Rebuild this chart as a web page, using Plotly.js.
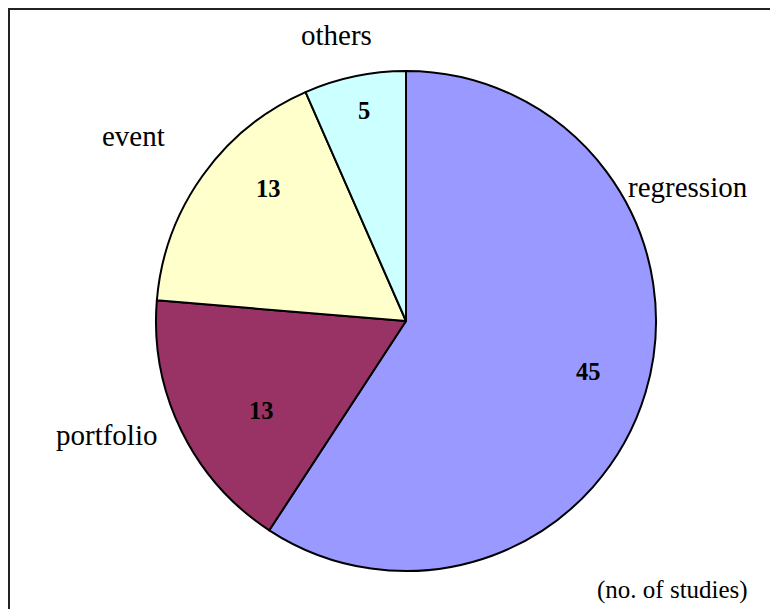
<!DOCTYPE html>
<html>
<head>
<meta charset="utf-8">
<script src="https://cdn.plot.ly/plotly-3.0.1.min.js"></script>
<style>
  html, body { margin: 0; padding: 0; background: #fff; }
  #chart { width: 770px; height: 609px; }
</style>
</head>
<body>
<div id="chart"></div>
<script>
// Studies grouped by method (no. of studies)
const categories = ['regression', 'portfolio', 'event', 'others'];
const studies = [45, 13, 13, 5];
const sliceColors = ['#9999FF', '#993366', '#FFFFCC', '#CCFFFF'];
const footnote = '(no. of studies)';

const W = 770, H = 609;
const px = x => x / W;
const py = y => 1 - y / H;

// Pie circle: centre (406, 321), radius 250 px
const cx = 406, cy = 321, R = 250;

// Category name and count positions (px), in category order
const namePos = [[688, 187], [107, 435], [133, 136], [336, 35]];
const countPos = [[588, 371], [261, 411], [268, 188], [364, 110]];

const serif = 'Liberation Serif';
const annotations = [];
categories.forEach((c, i) => {
  annotations.push({
    xref: 'paper', yref: 'paper', x: px(namePos[i][0]), y: py(namePos[i][1]),
    xanchor: 'center', yanchor: 'middle', showarrow: false, text: c,
    font: { family: serif, size: 29, color: '#000' }
  });
  annotations.push({
    xref: 'paper', yref: 'paper', x: px(countPos[i][0]), y: py(countPos[i][1]),
    xanchor: 'center', yanchor: 'middle', showarrow: false,
    text: '<b>' + studies[i] + '</b>',
    font: { family: serif, size: 24.5, color: '#000' }
  });
});
annotations.push({
  xref: 'paper', yref: 'paper', x: px(750), y: py(590),
  xanchor: 'right', yanchor: 'middle', showarrow: false, text: footnote,
  font: { family: serif, size: 25, color: '#000' }
});

const trace = {
  type: 'pie',
  labels: categories,
  values: studies,
  sort: false,
  direction: 'clockwise',
  rotation: 0,
  textinfo: 'none',
  hoverinfo: 'label+value',
  marker: { colors: sliceColors, line: { color: '#000', width: 2 } },
  domain: { x: [px(cx - R), px(cx + R)], y: [py(cy + R), py(cy - R)] }
};

const layout = {
  width: W, height: H,
  margin: { l: 0, r: 0, t: 0, b: 0 },
  showlegend: false,
  paper_bgcolor: '#fff',
  font: { family: serif },
  annotations: annotations,
  shapes: [{
    type: 'rect', xref: 'paper', yref: 'paper',
    x0: px(9), x1: 1.2, y0: -0.2, y1: py(9),
    line: { color: '#222', width: 2 }, fillcolor: 'rgba(0,0,0,0)'
  }]
};

Plotly.newPlot('chart', [trace], layout, { displayModeBar: false, staticPlot: true });
</script>
</body>
</html>
